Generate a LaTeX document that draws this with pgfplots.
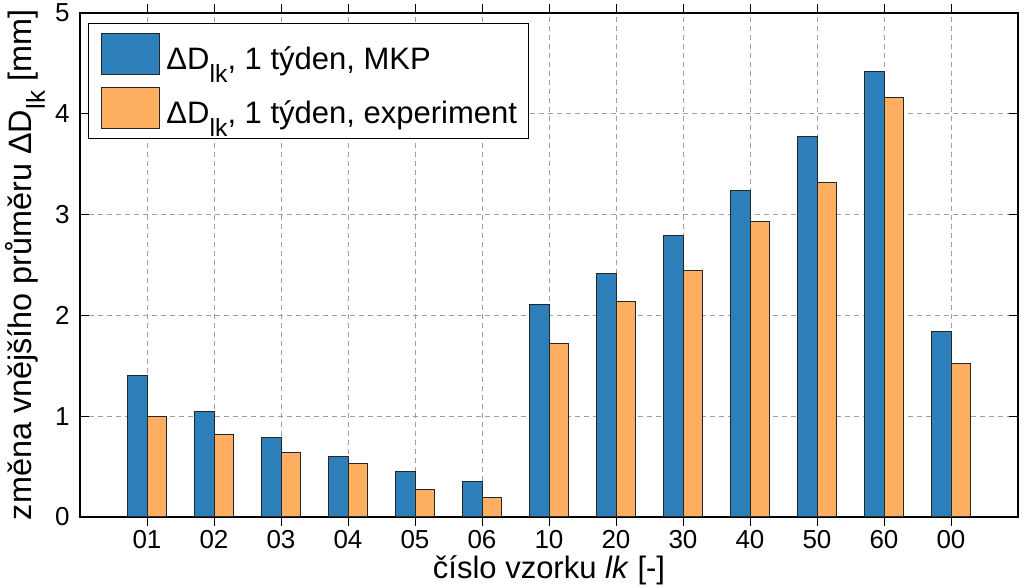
\documentclass[border=0pt]{standalone}
\usepackage{pgfplots}
\pgfplotsset{compat=1.18}
\usepackage{fontspec}
\setmainfont{Liberation Sans}
\definecolor{cblue}{RGB}{44,127,184}
\definecolor{corange}{RGB}{253,174,97}
\newcommand\sublk{\raisebox{-0.42em}{\fontsize{0.8em}{1em}\selectfont lk}}
\pgfplotstableread{
x mkp exp
0 1.40 1.00
1 1.045 0.82
2 0.79 0.64
3 0.60 0.535
4 0.456 0.27
5 0.35 0.19
6 2.108 1.72
7 2.42 2.14
8 2.79 2.445
9 3.235 2.935
10 3.773 3.317
11 4.417 4.16
12 1.843 1.523
}\datatab
\begin{document}
\begin{tikzpicture}
\begin{axis}[
  scale only axis,
  width=469pt, height=252pt,
  xmin=-1, xmax=13, ymin=0, ymax=5,
  ybar=0pt, bar width=0.29,
  xtick={0,...,12},
  xticklabels={01,02,03,04,05,06,10,20,30,40,50,60,00},
  ytick={0,1,2,3,4,5},
  /pgf/number format/assume math mode=true,
  tick label style={font=\fontsize{13}{15}\selectfont},
  xticklabel style={anchor=base, yshift=-11.5pt, inner sep=0pt},
  yticklabel style={anchor=east, xshift=-5pt, inner sep=0pt},
  major tick length=4.5pt,
  tick style={black, line width=0.5pt},
  axis line style={black, line width=0.6pt},
  xmajorgrids, ymajorgrids,
  grid style={gray!75, line width=0.5pt, dash pattern=on 2.5pt off 2pt},
  xlabel={číslo vzorku \textit{lk} [-]},
  ylabel={změna vnějšího průměru ΔD\sublk\ [mm]},
  every axis x label/.style={at={(axis description cs:0.5,-0.123)}, anchor=base, font=\fontsize{15.5}{18}\selectfont},
  every axis y label/.style={at={(axis description cs:-0.0586,0.5)}, rotate=90, anchor=center, font=\fontsize{16.2}{19}\selectfont},
  legend style={at={(axis description cs:0,1)}, anchor=north west, xshift=4pt, yshift=-5pt,
    draw=black, line width=0.5pt, font=\fontsize{15.5}{18}\selectfont,
    inner xsep=6pt, inner ysep=4.7pt, row sep=6.3pt,
    nodes={inner sep=0pt},
    /tikz/every odd column/.append style={column sep=3.5pt}},
  legend cell align=left,
]
\addplot[fill=cblue, draw=black!85, line width=0.5pt, bar shift=-0.145,
  legend image code/.code={\draw[fill=cblue, draw=black!85, line width=0.5pt] (0pt,-7.5pt) rectangle (29pt,13pt);}]
  table[x=x, y=mkp] {\datatab};
\addlegendentry{ΔD\sublk, 1 týden, MKP}
\addplot[fill=corange, draw=black!85, line width=0.5pt, bar shift=0.145,
  legend image code/.code={\draw[fill=corange, draw=black!85, line width=0.5pt] (0pt,-7.5pt) rectangle (29pt,13pt);}]
  table[x=x, y=exp] {\datatab};
\addlegendentry{ΔD\sublk, 1 týden, experiment}
\end{axis}
\pgfresetboundingbox
\path[use as bounding box] ([xshift=-40pt, yshift=-35.5pt]current axis.south west) rectangle ([xshift=3pt, yshift=6.5pt]current axis.north east);
\end{tikzpicture}
\end{document}
